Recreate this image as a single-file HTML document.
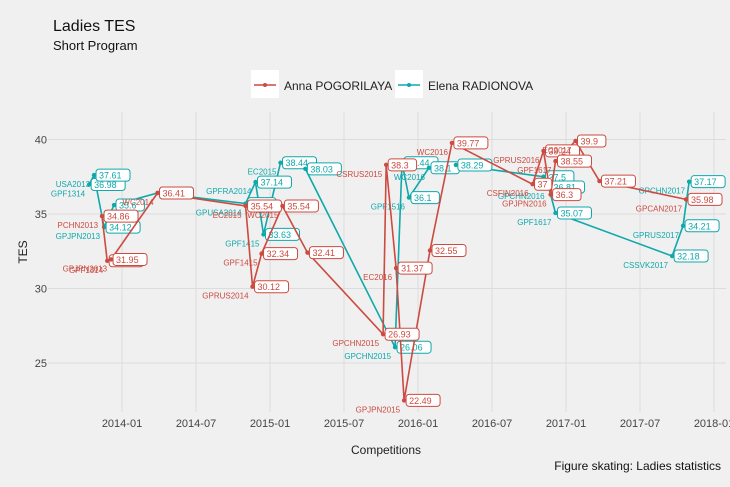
<!DOCTYPE html>
<html><head><meta charset="utf-8">
<style>
html,body{margin:0;padding:0;background:#f0f0f0;}
svg{display:block;font-family:"Liberation Sans",sans-serif;}
</style></head>
<body>
<svg id="chart" width="730" height="487" viewBox="0 0 730 487">
<rect x="0" y="0" width="730" height="487" fill="#f0f0f0"/>
<text x="53" y="31" font-size="16" fill="#111">Ladies TES</text>
<text x="53" y="50" font-size="13" fill="#111">Short Program</text>
<g>
 <rect x="251" y="70" width="28" height="28" fill="#fff"/>
 <line x1="254" y1="85" x2="276" y2="85" stroke="#cc4a40" stroke-width="1.5"/>
 <circle cx="265" cy="85" r="2" fill="#cc4a40"/>
 <text x="284" y="90" font-size="12" fill="#222">Anna POGORILAYA</text>
 <rect x="395" y="70" width="28" height="28" fill="#fff"/>
 <line x1="398" y1="85" x2="420" y2="85" stroke="#0fa8ab" stroke-width="1.5"/>
 <circle cx="409" cy="85" r="2" fill="#0fa8ab"/>
 <text x="428" y="90" font-size="12" fill="#222">Elena RADIONOVA</text>
</g>
<g id="grid"></g>
<g id="axes"></g>
<g id="series"></g>
<text transform="translate(27,252) rotate(-90)" text-anchor="middle" font-size="12" fill="#222">TES</text>
<text x="386" y="454" text-anchor="middle" font-size="12" fill="#222">Competitions</text>
<text x="721" y="470" text-anchor="end" font-size="12" fill="#111">Figure skating: Ladies statistics</text>
</svg>
<script>
const xTickValues = [2014.0, 2014.5, 2015.0, 2015.5, 2016.0, 2016.5, 2017.0, 2017.5, 2018.0];
const xTickLabels = ["2014-01","2014-07","2015-01","2015-07","2016-01","2016-07","2017-01","2017-07","2018-01"];
const yTickValues = [25, 30, 35, 40];

const annaDates = [2013.865, 2013.900, 2013.926, 2014.240, 2014.835, 2014.882, 2014.943, 2015.084, 2015.253, 2015.764, 2015.785, 2015.852, 2015.906, 2016.081, 2016.229, 2016.774, 2016.848, 2016.896, 2016.929, 2017.064, 2017.226, 2017.811];
const annaValues = [34.86, 31.86, 31.95, 36.41, 35.54, 30.12, 32.34, 35.54, 32.41, 26.93, 38.3, 31.37, 22.49, 32.55, 39.77, 37, 39.24, 36.3, 38.55, 39.9, 37.21, 35.98];
const annaNames = ["PCHN2013","GPF1314","GPJPN2013","WC2014","EC2015","GPRUS2014","GPF1415","WC2015","","GPCHN2015","CSRUS2015","EC2016","GPJPN2015","","WC2016","CSFIN2016","GPRUS2016","GPJPN2016","GPF1617","EC2017","","GPCAN2017"];

const elenaDates = [2013.778, 2013.811, 2013.879, 2013.946, 2014.240, 2014.835, 2014.902, 2014.956, 2015.071, 2015.239, 2015.845, 2015.892, 2015.939, 2016.074, 2016.256, 2016.848, 2016.882, 2016.929, 2017.717, 2017.791, 2017.832];
const elenaValues = [36.98, 37.61, 34.12, 35.6, 36.41, 35.7, 37.14, 33.63, 38.44, 38.03, 26.06, 38.44, 36.1, 38.1, 38.29, 37.5, 36.81, 35.07, 32.18, 34.21, 37.17];
const elenaNames = ["GPF1314","USA2013","GPJPN2013","","","GPUSA2014","GPFRA2014","GPF1415","EC2015","","GPCHN2015","","GPF1516","WC2016","","","GPCHN2016","GPF1617","CSSVK2017","GPRUS2017","GPCHN2017"];

const NS = "http://www.w3.org/2000/svg";
const PL = 48, PR = 726, PT = 112, PB = 412;
function xScale(t){ return 122 + (t - 2014) * 148; }
function yScale(v){ return 363 - (v - 25) * 14.9; }
function mk(tag, attrs, parent){ const e = document.createElementNS(NS, tag); for (const k in attrs) e.setAttribute(k, attrs[k]); parent.appendChild(e); return e; }

const grid = document.getElementById('grid');
const axes = document.getElementById('axes');
xTickValues.forEach((t, i) => {
  const x = xScale(t);
  const l = mk('line', {x1:x, x2:x, y1:PT, y2:PB, stroke:'#dcdcdc', 'stroke-width':1}, grid);
  
  
  const tx = mk('text', {x:x, y:427, 'text-anchor':'middle', 'font-size':11, fill:'#444'}, axes);
  tx.textContent = xTickLabels[i];
  
  
});
yTickValues.forEach(v => {
  const y = yScale(v);
  const l = mk('line', {x1:PL, x2:PR, y1:y, y2:y, stroke:'#dcdcdc', 'stroke-width':1}, grid);
  
  
  const tx = mk('text', {x:47, y:y + 4, 'text-anchor':'end', 'font-size':11, fill:'#444'}, axes);
  tx.textContent = v;
  
  
});

const series = document.getElementById('series');
function drawSeries(dates, values, names, color, key){
  const g = mk('g', {}, series);
  
  
  const pts = dates.map((d, i) => xScale(d) + ',' + yScale(values[i])).join(' ');
  const pl = mk('polyline', {points:pts, fill:'none', stroke:color, 'stroke-width':1.6}, g);
  
  
  dates.forEach((d, i) => {
    const x = xScale(d), y = yScale(values[i]);
    const c = mk('circle', {cx:x, cy:y, r:2.2, fill:color}, g);
    
    
    const txt = String(values[i]);
    const w = txt.length * 5.6 + 6;
    const r = mk('rect', {x:x + 2, y:y - 6, width:w, height:12, rx:3, fill:'#fff', stroke:color, 'stroke-width':1}, g);
    
    
    const vt = mk('text', {x:x + 5, y:y + 3.5, 'font-size':9, fill:color}, g);
    vt.textContent = txt;
    
    
    if (names[i]) {
      const nt = mk('text', {x:x - 4, y:y + 12, 'text-anchor':'end', 'font-size':8, fill:color}, g);
      nt.textContent = names[i];
      
      
    }
  });
}
drawSeries(elenaDates, elenaValues, elenaNames, '#0fa8ab', 'elena');
drawSeries(annaDates, annaValues, annaNames, '#cc4a40', 'anna');
</script>
</body></html>
